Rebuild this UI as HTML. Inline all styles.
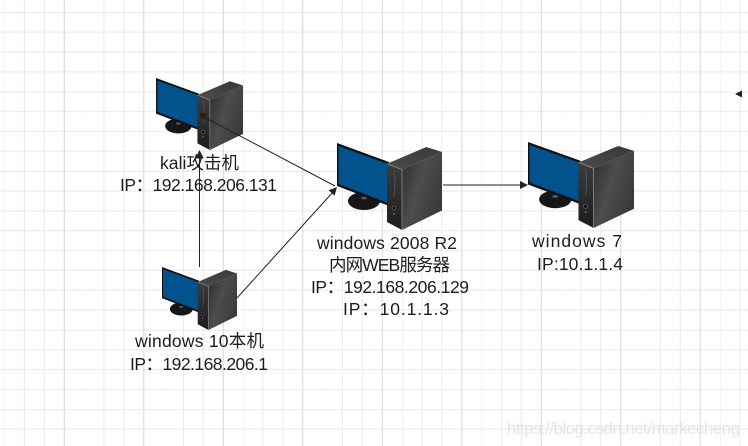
<!DOCTYPE html>
<html>
<head>
<meta charset="utf-8">
<style>
html,body{margin:0;padding:0;background:#fff;width:748px;height:446px;overflow:hidden}
svg{display:block}
text{font-family:"Liberation Sans","Noto Sans CJK SC",sans-serif;font-size:17.5px;fill:#1c1c1c}
</style>
</head>
<body>
<svg width="748" height="446" viewBox="0 0 748 446" xmlns="http://www.w3.org/2000/svg">
<defs>
<pattern id="grid" x="4.5" y="12.3" width="79.5" height="79.4" patternUnits="userSpaceOnUse">
<g stroke="#ececec" stroke-width="1.2" fill="none">
<path d="M0 0V79.4M19.9 0V79.4M39.8 0V79.4"/>
<path d="M0 19.85H79.5M0 39.7H79.5M0 59.55H79.5"/>
</g>
<path d="M59.8 0V79.4" stroke="#dcdcdc" stroke-width="1.2"/>
<path d="M0 0H79.5" stroke="#dcdcdc" stroke-width="1.2"/>
</pattern>
<linearGradient id="side" x1="0" y1="0" x2="1" y2="0.6">
<stop offset="0" stop-color="#2c2c2c"/>
<stop offset="0.5" stop-color="#4d4d4d"/>
<stop offset="1" stop-color="#3a3a3a"/>
</linearGradient>
<linearGradient id="front" x1="0" y1="0" x2="0" y2="1">
<stop offset="0" stop-color="#3d3d3d"/>
<stop offset="1" stop-color="#1d1d1d"/>
</linearGradient>
<linearGradient id="top" x1="0" y1="1" x2="1" y2="0">
<stop offset="0" stop-color="#4c4c4c"/>
<stop offset="1" stop-color="#383838"/>
</linearGradient>
<symbol id="pc" viewBox="0 0 105 87" preserveAspectRatio="none" overflow="visible">
<ellipse cx="27" cy="58" rx="16" ry="9" fill="#161616"/>
<ellipse cx="27" cy="55" rx="3" ry="1.5" fill="#555"/>
<polygon points="0,0 52,19 52,63 0,43" fill="#111"/>
<polygon points="1.5,3 51,21 51,60 1.5,41" fill="#02528d"/>
<polygon points="50,20.7 89.3,4 105,9 65,26.7" fill="url(#top)"/>
<polygon points="65,26.7 105,9 105,67.5 65,87" fill="url(#side)"/>
<polygon points="50,20.7 65,26.7 65,87 50,79" fill="url(#front)"/>
<polyline points="50,20.7 65,26.7 65,87" fill="none" stroke="#9a9a9a" stroke-width="0.7"/>
<path d="M57 27Q59 40 57 54" fill="none" stroke="#5a5a5a" stroke-width="0.8"/>
<circle cx="57" cy="65" r="2" fill="#0a0a0a" stroke="#888" stroke-width="0.5"/>
<circle cx="57" cy="71" r="0.8" fill="#888"/>
</symbol>
</defs>
<rect width="748" height="446" fill="#fff"/>
<rect width="748" height="446" fill="url(#grid)"/>

<use href="#pc" x="156" y="78" width="87" height="72"/>
<use href="#pc" x="337" y="143" width="105" height="87"/>
<use href="#pc" x="528" y="142" width="106" height="86"/>
<use href="#pc" x="162" y="267" width="75" height="63"/>

<g stroke="#222" stroke-width="1" fill="none">
<path d="M199.5 267V157"/>
<path d="M204 117L335 186"/>
<path d="M237 298L333 192"/>
<path d="M443 185H522"/>
</g>
<g fill="#222">
<polygon points="199.5,150 195.5,158 203.5,158"/>
<polygon points="199.5,113 207.5,113 203,120"/>
<polygon points="337,187 334.6,195.7 328.6,190.3"/>
<polygon points="528,185 520,181 520,189"/>
<polygon points="735,94 742,90.5 742,97.5"/>
</g>

<text x="160" y="169" textLength="79" lengthAdjust="spacing">kali攻击机</text>
<text x="120" y="191" textLength="157" lengthAdjust="spacing">IP：192.168.206.131</text>
<text x="135" y="347" textLength="129" lengthAdjust="spacing">windows 10本机</text>
<text x="130" y="370" textLength="138" lengthAdjust="spacing">IP：192.168.206.1</text>
<text x="317" y="249" textLength="140" lengthAdjust="spacing">windows 2008 R2</text>
<text x="329" y="271" textLength="121" lengthAdjust="spacing">内网WEB服务器</text>
<text x="311" y="293" textLength="158" lengthAdjust="spacing">IP：192.168.206.129</text>
<text x="343" y="315" textLength="106" lengthAdjust="spacing">IP：10.1.1.3</text>
<text x="532" y="247" textLength="90" lengthAdjust="spacing">windows 7</text>
<text x="537" y="270" textLength="86" lengthAdjust="spacing">IP:10.1.1.4</text>

<text x="507" y="434" textLength="233" lengthAdjust="spacing" style="fill:#e4e4e4;font-size:17px">https://blog.csdn.net/markecheng</text>
</svg>
</body>
</html>
